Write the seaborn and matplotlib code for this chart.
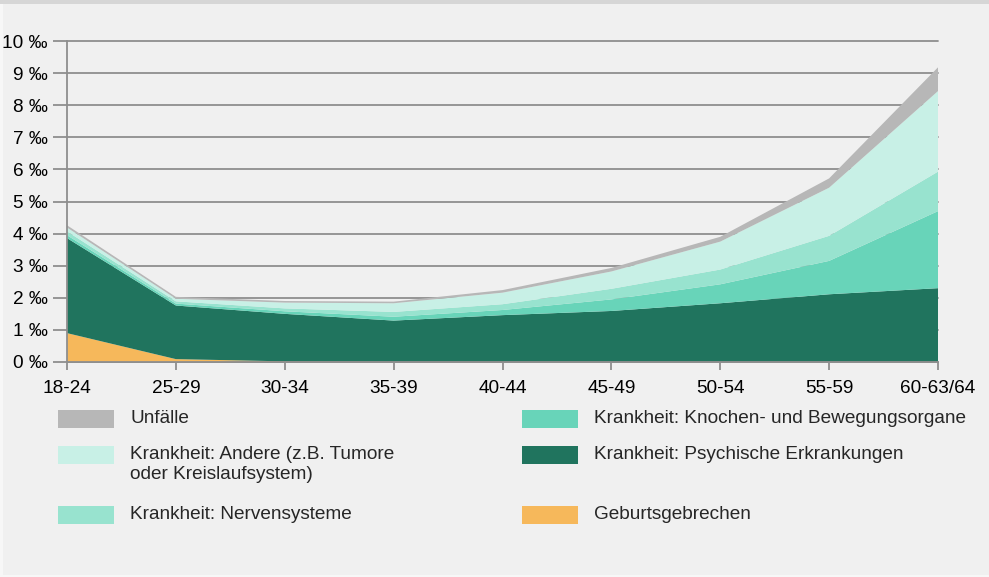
import pandas as pd
import matplotlib.pyplot as plt
import seaborn as sns
from matplotlib.patches import Rectangle

# Daten (Promille, je Altersgruppe)
altersgruppen = ["18-24", "25-29", "30-34", "35-39", "40-44", "45-49", "50-54", "55-59", "60-63/64"]
geburtsgebrechen = [0.90, 0.09, 0.02, 0.01, 0.01, 0.01, 0.01, 0.01, 0.01]
psychisch = [2.96, 1.67, 1.48, 1.28, 1.45, 1.58, 1.82, 2.10, 2.29]
knochen = [0.09, 0.06, 0.08, 0.12, 0.16, 0.36, 0.59, 1.04, 2.40]
nerven = [0.12, 0.07, 0.09, 0.15, 0.18, 0.33, 0.46, 0.78, 1.23]
andere = [0.12, 0.08, 0.18, 0.27, 0.36, 0.54, 0.87, 1.50, 2.51]
unfaelle = [0.07, 0.06, 0.05, 0.05, 0.08, 0.11, 0.15, 0.29, 0.74]
y_ticks = list(range(0, 11))

data = pd.DataFrame({
    "Geburtsgebrechen": geburtsgebrechen,
    "Krankheit: Psychische Erkrankungen": psychisch,
    "Krankheit: Knochen- und Bewegungsorgane": knochen,
    "Krankheit: Nervensysteme": nerven,
    "Krankheit: Andere (z.B. Tumore\noder Kreislaufsystem)": andere,
    "Unfälle": unfaelle,
}, index=altersgruppen)

farben = {
    "Geburtsgebrechen": "#f6b85b",
    "Krankheit: Psychische Erkrankungen": "#20745e",
    "Krankheit: Knochen- und Bewegungsorgane": "#68d4b9",
    "Krankheit: Nervensysteme": "#98e3cf",
    "Krankheit: Andere (z.B. Tumore\noder Kreislaufsystem)": "#c8f0e6",
    "Unfälle": "#b7b7b7",
}

bg = "#f0f0f0"
grid = "#8e8e8e"
sns.set_theme(style="white", rc={"axes.facecolor": bg, "figure.facecolor": bg})
plt.rcParams["font.family"] = ["Liberation Sans", "DejaVu Sans"]

fig = plt.figure(figsize=(9.89, 5.77), dpi=100)
ax = fig.add_axes([67 / 989, 1 - 362 / 577, (938 - 67) / 989, (362 - 41) / 577])

x = list(range(len(altersgruppen)))
ax.stackplot(x, [data[c] for c in data.columns],
             colors=[farben[c] for c in data.columns], zorder=3,
             edgecolor="none")

ax.set_xlim(0, len(altersgruppen) - 1)
ax.set_ylim(0, 10)
ax.set_yticks(y_ticks)
ax.set_yticklabels([f"{t} ‰" for t in y_ticks])
ax.set_xticks(x)
ax.set_xticklabels(altersgruppen)
for t in y_ticks:
    ax.axhline(t, color=grid, lw=1.3, zorder=1, clip_on=False)
ax.tick_params(axis="y", length=10, width=1.3, color=grid, pad=4, labelsize=13.7, labelcolor="black")
ax.tick_params(axis="x", length=6, width=1.3, color=grid, pad=7, labelsize=13.7, labelcolor="black")
ax.tick_params(axis="y", left=True)
ax.tick_params(axis="x", bottom=True, direction="out")
for s in ["top", "right"]:
    ax.spines[s].set_visible(False)
for s in ["left", "bottom"]:
    ax.spines[s].set_color(grid)
    ax.spines[s].set_linewidth(1.3)
    ax.spines[s].set_zorder(4)

# Rahmen
fig.add_artist(Rectangle((0, 1 - 4 / 577), 1, 4 / 577, transform=fig.transFigure,
                         color="#d6d6d6", lw=0))
fig.add_artist(Rectangle((0, 0), 3 / 989, 1 - 4 / 577, transform=fig.transFigure,
                         color="#f7f7f7", lw=0, zorder=0))
fig.add_artist(Rectangle((0, 0), 1, 2 / 577, transform=fig.transFigure,
                         color="#f7f7f7", lw=0, zorder=0))

# Legende
eintraege = [
    ("Unfälle", 58, 419),
    ("Krankheit: Andere (z.B. Tumore\noder Kreislaufsystem)", 58, 455),
    ("Krankheit: Nervensysteme", 58, 515),
    ("Krankheit: Knochen- und Bewegungsorgane", 522, 419),
    ("Krankheit: Psychische Erkrankungen", 522, 455),
    ("Geburtsgebrechen", 522, 515),
]
for name, px, py in eintraege:
    fig.add_artist(Rectangle((px / 989, 1 - (py + 9) / 577), 56 / 989, 18 / 577,
                             transform=fig.transFigure, color=farben[name], lw=0))
    fig.text((px + 72) / 989, 1 - (py - 9) / 577, name, fontsize=13.7,
             va="top", ha="left", linespacing=1.25)

fig.savefig("out.png", dpi=100, facecolor=bg)
plt.close(fig)
